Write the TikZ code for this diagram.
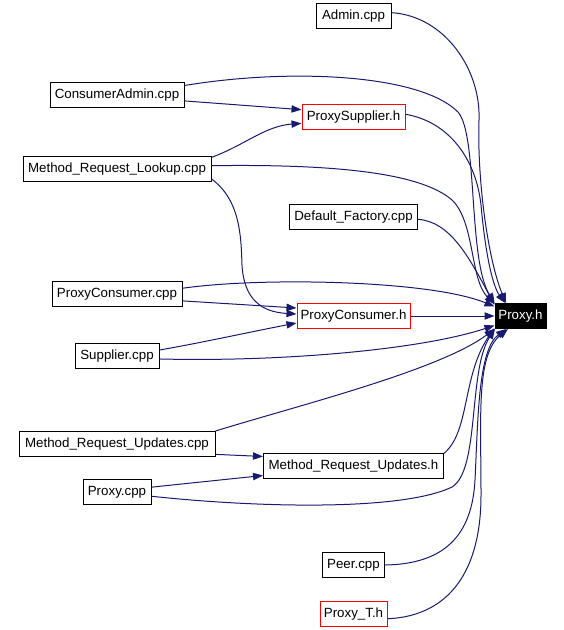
\documentclass[tikz,border=0pt]{standalone}
\usepackage{fontspec}
\setmainfont{Liberation Sans}
\usepackage{tikz}
\usetikzlibrary{arrows.meta,positioning}
\definecolor{edgeblue}{RGB}{25,25,112}

\begin{document}
\begin{tikzpicture}
[x=0.75pt, y=-0.75pt, font=\fontsize{10}{12}\selectfont,
% STYLES
% The file style is used to draw the files that include Proxy.h
file/.style={rectangle, draw=black, line width=0.75pt, inner xsep=2pt, inner ysep=2pt, minimum height=18.75pt},
% The header style is used for the headers drawn in red
header/.style={file, draw=red},
% The target style is used for the included header
target/.style={file, fill=black, text=white},
% The link style is used to draw the include links
link/.style={draw=edgeblue, line width=0.75pt, -{Triangle[length=7.5pt,width=5.5pt]}}]

\useasboundingbox (0,0) rectangle (563,630);

% Draw files
\node [target, minimum width=38.25pt] (proxy_h) at (520.5,316) {Proxy.h};
\node [header, minimum width=84.75pt, left=63pt of proxy_h] (proxyconsumer_h) {ProxyConsumer.h};
\node [file, minimum width=96pt, above=54.75pt of proxyconsumer_h] (default_factory_cpp) {Default\_Factory.cpp};
\node [header, minimum width=77.25pt, above=55.5pt of default_factory_cpp] (proxysupplier_h) {ProxySupplier.h};
\node [file, minimum width=56.25pt, above=56.25pt of proxysupplier_h] (admin_cpp) {Admin.cpp};
\node [file, minimum width=135pt, below=93pt of proxyconsumer_h] (mru_h) {Method\_Request\_Updates.h};
\node [file, minimum width=46.5pt, below=54.75pt of mru_h] (peer_cpp) {Peer.cpp};
\node [header, minimum width=50.25pt, below=17.25pt of peer_cpp] (proxy_t_h) {Proxy\_T.h};

% left column
\node [file, minimum width=100.5pt] (consumeradmin_cpp) at (117,95) {ConsumerAdmin.cpp};
\node [file, minimum width=141pt, below=36pt of consumeradmin_cpp] (mrl_cpp) {Method\_Request\_Lookup.cpp};
\node [file, minimum width=97.5pt, below=74.25pt of mrl_cpp] (proxyconsumer_cpp) {ProxyConsumer.cpp};
\node [file, minimum width=63pt, below=27pt of proxyconsumer_cpp] (supplier_cpp) {Supplier.cpp};
\node [file, minimum width=147pt, below=46.5pt of supplier_cpp] (mru_cpp) {Method\_Request\_Updates.cpp};
\node [file, minimum width=51pt, below=16.5pt of mru_cpp] (proxy_cpp) {Proxy.cpp};

%%%%%%%%%%%%%%%
% Draw the links between files

% into ProxySupplier.h
\draw [link] (consumeradmin_cpp.-5) -- (proxysupplier_h.172);
\draw [link] (mrl_cpp.7) .. controls (245,145) and (265,126) .. (proxysupplier_h.187);

% into ProxyConsumer.h
\draw [link] (mrl_cpp.-6) .. controls (240,200) and (241,235) .. (242,265) .. controls (244,300) and (262,312) .. (proxyconsumer_h.178);
\draw [link] (proxyconsumer_cpp.-6) -- (proxyconsumer_h.172);
\draw [link] (supplier_cpp.8) .. controls (200,343) and (250,332) .. (proxyconsumer_h.187);

% into Method_Request_Updates.h
\draw [link] (mru_cpp.-6) -- (mru_h.174);
\draw [link] (proxy_cpp.8) -- (mru_h.186);

% into Proxy.h, from above
\draw [link] (admin_cpp.5) .. controls (445,16) and (481,70) .. (479,120) .. controls (477,180) and (488,260) .. (proxy_h.138);
\draw [link] (consumeradmin_cpp.8) .. controls (290,68) and (420,74) .. (458,112) .. controls (478,135) and (468,260) .. (proxy_h.north west);
\draw [link] (proxysupplier_h.3) .. controls (450,122) and (476,160) .. (481,205) .. controls (485,250) and (492,285) .. (proxy_h.140);
\draw [link] (mrl_cpp.2) .. controls (330,164) and (420,172) .. (452,200) .. controls (475,222) and (470,280) .. (proxy_h.155);
\draw [link] (default_factory_cpp.-2) .. controls (450,222) and (468,255) .. (proxy_h.157);
\draw [link] (proxyconsumer_cpp.5) .. controls (260,277) and (430,280) .. (proxy_h.160);
\draw [link] (proxyconsumer_h) -- (proxy_h);

% into Proxy.h, from below
\draw [link] (supplier_cpp.-4) .. controls (280,362) and (420,350) .. (proxy_h.200);
\draw [link] (mru_cpp.north east) .. controls (300,405) and (440,370) .. (proxy_h.south west);
\draw [link] (proxy_cpp.-7) .. controls (250,507) and (400,512) .. (452,487) .. controls (480,470) and (468,370) .. (proxy_h.207);
\draw [link] (mru_h.8) .. controls (470,432) and (462,375) .. (proxy_h.205);
\draw [link] (peer_cpp.east) .. controls (445,564) and (472,535) .. (475,480) .. controls (478,420) and (478,350) .. (proxy_h.222);
\draw [link] (proxy_t_h.-8) .. controls (450,616) and (481,570) .. (481,495) .. controls (481,415) and (476,355) .. (proxy_h.226);

\end{tikzpicture}
\end{document}
